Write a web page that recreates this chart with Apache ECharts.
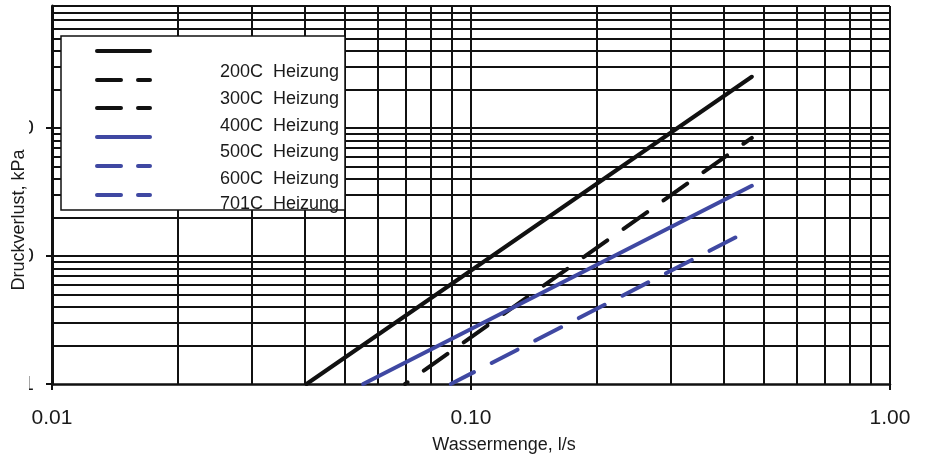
<!DOCTYPE html>
<html><head><meta charset="utf-8">
<script src="https://cdn.jsdelivr.net/npm/echarts@6/dist/echarts.min.js"></script>
<style>html,body{margin:0;padding:0;background:#fff}#c{width:926px;height:460px}</style>
</head><body><div id="c"></div>
<script>
// ---- data ----
const xTickValues = [0.01, 0.1, 1];
const yTickValues = [0.1, 1, 10];
const xGridLines = [0.02,0.03,0.04,0.05,0.06,0.07,0.08,0.09,0.1,0.2,0.3,0.4,0.5,0.6,0.7,0.8,0.9,1];
const yGridLines = [0.2,0.3,0.4,0.5,0.6,0.7,0.8,0.9,1,2,3,4,5,6,7,8,9,10,20,30,40,50,60,70,80,90];
const solidBlack  = [[0.0405, 0.1], [0.468, 25.2]];
const dashedBlack = [[0.0696, 0.1], [0.468, 8.4]];
const solidBlue   = [[0.0553, 0.1], [0.468, 3.54]];
const dashedBlue  = [[0.0895, 0.1], [0.430, 1.41]];
const legendLabels = ['200C  Heizung','300C  Heizung','400C  Heizung','500C  Heizung','600C  Heizung','701C  Heizung'];
const xAxisTitle = 'Wassermenge, l/s';
const yAxisTitle = 'Druckverlust, kPa';

// ---- styles ----
const BLACK = '#111111', BLUE = '#3f48a2', TXT = '#1a1a1a', FONT = 'Liberation Sans, Arial, sans-serif';
const legendKinds = [[BLACK,false],[BLACK,true],[BLACK,true],[BLUE,false],[BLUE,true],[BLUE,true]];
const legendLineY = [51,80,108,137,166,195];
const legendTextY = [72,99,126,152,179,204];

const gridLineStyle = {color: BLACK, width: 2, type: 'solid'};
function gridMarkLine(){
  return {silent:true, symbol:['none','none'], label:{show:false}, lineStyle:gridLineStyle, animation:false,
    data: xGridLines.map(v=>({xAxis:v})).concat(yGridLines.map(v=>({yAxis:v})))};
}
function lineSeries(name, data, color, dashed, offset){
  return {name, type:'line', data, symbol:'none', clip:true, z:5, animation:false,
    lineStyle:{color, width:4, cap:'round', type: dashed?[29,20]:'solid', dashOffset: offset||0}};
}

const graphic = [
  {type:'rect', shape:{x:0,y:0,width:29,height:400}, style:{fill:'#fff'}, z:100},
  {type:'text', x:19, y:220, rotation:Math.PI/2, z:101,
    style:{text:yAxisTitle, fill:TXT, font:'18px '+FONT, align:'center', verticalAlign:'middle'}},
  {type:'rect', shape:{x:61,y:36,width:284,height:174}, style:{fill:'#fff', stroke:BLACK, lineWidth:1.5}, z:50}
];
legendKinds.forEach((k,i)=>{
  graphic.push({type:'line', z:51, shape:{x1:97,y1:legendLineY[i],x2:150,y2:legendLineY[i]},
    style:{stroke:k[0], lineWidth:4, lineCap:'round', lineDash: k[1]?[24,17]:null}});
});
legendLabels.forEach((t,i)=>{
  graphic.push({type:'text', z:52, x:339, y:legendTextY[i],
    style:{text:t, fill:TXT, font:'18px '+FONT, align:'right', verticalAlign:'middle'}});
});

const chart = echarts.init(document.getElementById('c'));
chart.setOption({
  animation:false,
  backgroundColor:'#fff',
  grid:{left:52, right:36, top:6, bottom:76, containLabel:false, outerBoundsMode:'none'},
  xAxis:{type:'log', logBase:10, min:0.01, max:1,
    name:xAxisTitle, nameLocation:'middle', nameGap:52,
    nameTextStyle:{fontSize:18, color:TXT, fontFamily:FONT, padding:[0,0,0,66]},
    axisLine:{show:true, lineStyle:{color:BLACK, width:2.5}},
    axisTick:{show:true, length:6, lineStyle:{color:BLACK, width:2}, customValues:xTickValues},
    axisLabel:{fontSize:21, color:TXT, fontFamily:FONT, margin:24, formatter:v=>Number(v).toFixed(2), customValues:xTickValues},
    splitLine:{show:false}, minorTick:{show:false}, minorSplitLine:{show:false}},
  yAxis:{type:'log', logBase:10, min:0.1, max:90,
    axisLine:{show:true, lineStyle:{color:BLACK, width:3}},
    axisTick:{show:true, length:6, lineStyle:{color:BLACK, width:2}, customValues:yTickValues},
    axisLabel:{fontSize:21, color:TXT, fontFamily:FONT, margin:18, formatter:v=>Number(v).toFixed(1), customValues:yTickValues},
    splitLine:{show:false}},
  graphic: graphic,
  series:[
    {name:'grid', type:'line', data:[], markLine:gridMarkLine(), z:2},
    lineSeries('Linie 1', solidBlack, BLACK, false),
    lineSeries('Linie 2', dashedBlack, BLACK, true, 26),
    lineSeries('Linie 3', solidBlue, BLUE, false),
    lineSeries('Linie 4', dashedBlue, BLUE, true, 3)
  ]
});
</script></body></html>
